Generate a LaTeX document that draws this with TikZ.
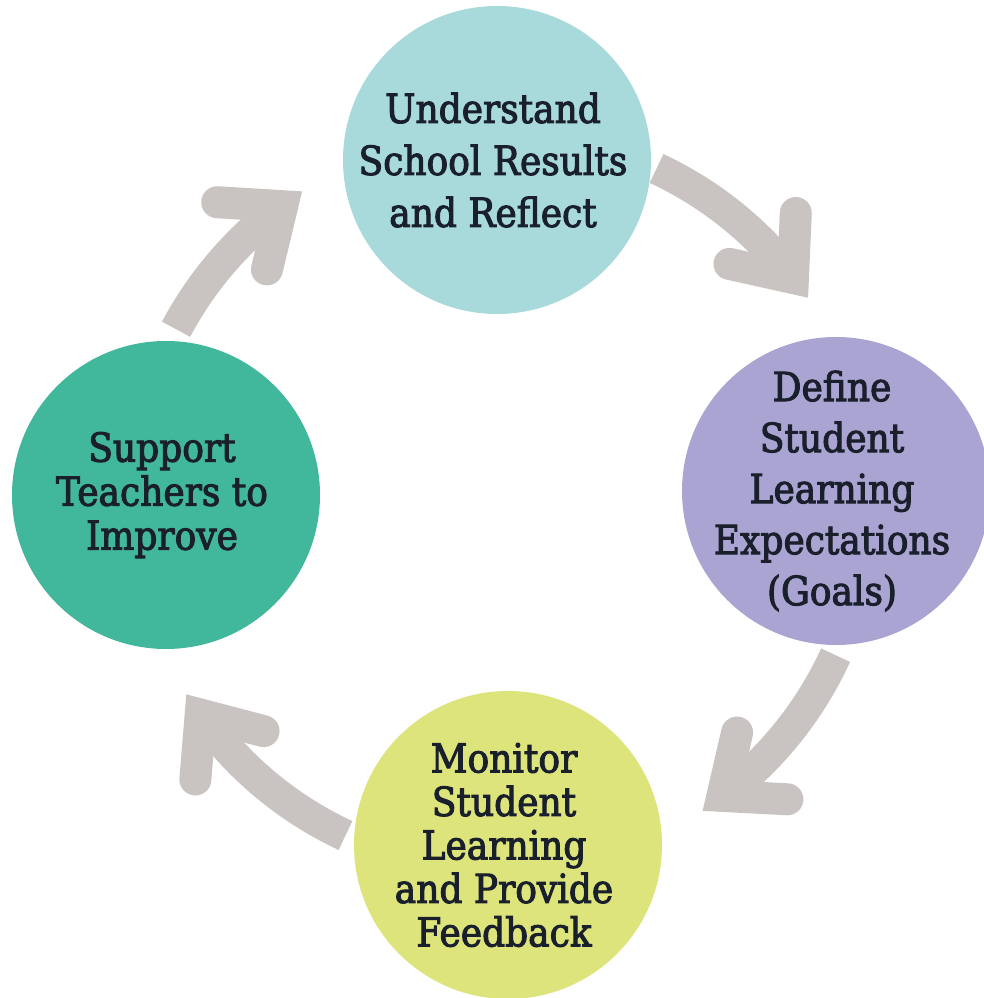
\documentclass[tikz,border=0pt]{standalone}
\usepackage{fontspec}
\setmainfont{DejaVu Serif}[FakeStretch=0.9,FakeBold=2.5]
\usetikzlibrary{calc}
\definecolor{cUnder}{HTML}{A8DADB}
\definecolor{cDefine}{HTML}{AAA4D2}
\definecolor{cSupport}{HTML}{41B79B}
\definecolor{cMonitor}{HTML}{DDE47B}
\definecolor{arrowgray}{HTML}{C9C4C1}
\definecolor{textcol}{HTML}{1A1F2C}
\begin{document}
\begin{tikzpicture}[x=1pt,y=1pt,
  stage/.style={circle, minimum size=308pt, inner sep=0pt},
  stagetext/.style={inner sep=0pt, text=textcol, align=center, xshift=-4pt},
  shaft/.style={line width=32pt, draw=arrowgray, line cap=butt},
  chevron/.style={line width=32pt, draw=arrowgray, line cap=round, line join=miter, miter limit=4}]
\useasboundingbox (0,0) rectangle (984,998);
\coordinate (O) at (501,496);
\node[stage, fill=cUnder] (understand) at (497,838) {};
\node[stage, fill=cDefine] (define) at (836,507) {};
\node[stage, fill=cMonitor] (monitor) at (508,153) {};
\node[stage, fill=cSupport] (support) at (166,503) {};
\node[stagetext, font=\fontsize{40}{52}\selectfont] (understandText) at (understand) {Understand\\School Results\\and Reflect};
\node[stagetext, font=\fontsize{40}{51}\selectfont] (defineText) at (define) {Define\\Student\\Learning\\Expectations\\(Goals)};
\node[stagetext, font=\fontsize{40}{43.5}\selectfont] (monitorText) at (monitor) {Monitor\\Student\\Learning\\and Provide\\Feedback};
\node[stagetext, font=\fontsize{40}{44}\selectfont] (supportText) at (support) {Support\\Teachers to\\Improve};
\foreach \a/\n/\t/\h in {45/1/20/7.5,-45/2/20.4/8,-135/3/20/9.7,135/4/17/8.5}{
  \coordinate (tail\n) at ($(O)+({\a+\t}:368)$);
  \coordinate (head\n) at ($(O)+({\a-\h}:368)$);
  \draw[shaft] (tail\n) arc[start angle={\a+\t}, end angle={\a-\h}, radius=368];
  \draw[chevron] ($(head\n)+({\a-\h+130}:65)$) -- (head\n) -- ($(head\n)+({\a-\h+50}:65)$);
}
\end{tikzpicture}
\end{document}
